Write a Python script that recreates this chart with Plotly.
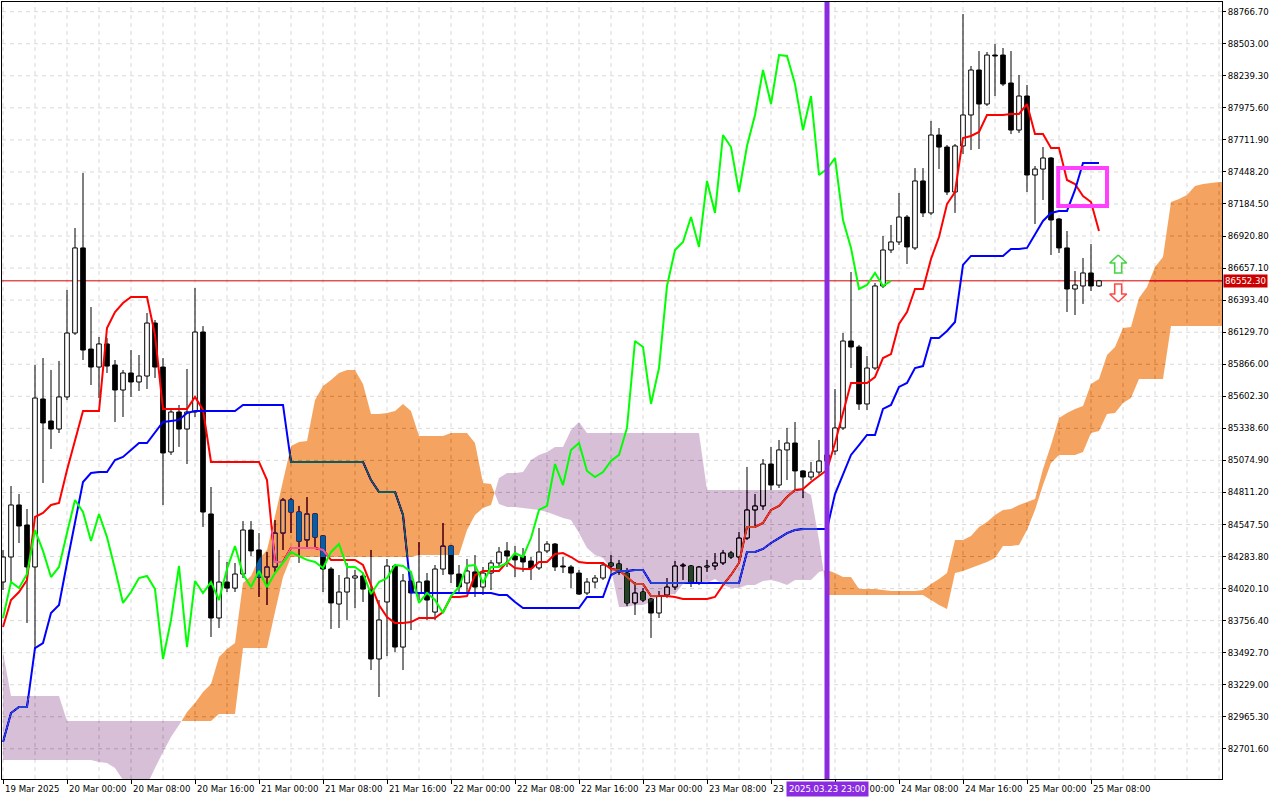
import numpy as np
import pandas as pd
import plotly.graph_objects as go

FONT = "DejaVu Sans"
START = pd.Timestamp("2025-03-19 16:00")   # first hourly bar on the chart
CHIKOU_SHIFT = 26

# ---- hourly BTCUSD candles ----
opens = [84074, 84280, 84708, 84543, 84198, 85580, 85399, 85333, 85597, 86123,
         86823, 85991, 85843, 86033, 85860, 85654, 85794, 85720, 85769, 86205,
         85843, 85144, 85473, 85333, 85473, 86131, 84634, 83778, 84074, 84024,
         84140, 84502, 84338, 84115, 84198, 84477, 84749, 84650, 84420, 84634,
         84453, 84181, 83893, 83992, 84107, 84124, 84008, 83441, 83910, 84206,
         83539, 84083, 83984, 84083, 83827, 84181, 84370, 84140, 84066, 84157,
         84033, 84148, 84231, 84330, 84288, 84288, 84247, 84190, 84330, 84387,
         84206, 84198, 84148, 83984, 84074, 84107, 84231, 84223, 84148, 83902,
         83992, 83934, 83819, 83967, 84033, 84206, 84206, 84066, 84206, 84206,
         84231, 84313, 84280, 84436, 84667, 84700, 85045, 84872, 85161, 85218,
         84988, 84938, 84979, 85070, 85152, 85342, 86057, 86008, 85539, 85835,
         86510, 86806, 86872, 87077, 86823, 87374, 87111, 87752, 87653, 87283,
         87662, 87917, 88287, 88007, 88410, 88410, 88180, 87793, 88073, 87423,
         87472, 87563, 87061, 86823, 86485, 86510, 86617, 86510]
highs = [84338, 84864, 84798, 84675, 85860, 85917, 85819, 85893, 86477, 86987,
         87440, 86337, 86090, 86082, 85901, 85819, 85983, 85942, 86288, 86230,
         85917, 85506, 85531, 85827, 86493, 86180, 84856, 84338, 84239, 84231,
         84576, 84576, 84477, 84321, 84584, 84765, 84765, 84700, 84773, 84642,
         84461, 84198, 84132, 84231, 84173, 84148, 84338, 83926, 84264, 84223,
         84140, 84157, 84403, 84148, 84214, 84560, 84379, 84214, 84264, 84296,
         84198, 84256, 84362, 84403, 84370, 84354, 84280, 84519, 84411, 84395,
         84280, 84214, 84173, 84107, 84132, 84239, 84296, 84256, 84190, 84074,
         84024, 83943, 84000, 84107, 84247, 84231, 84214, 84206, 84256, 84313,
         84338, 84330, 84486, 85021, 84798, 85086, 85186, 85243, 85342, 85391,
         84996, 85062, 85243, 85201, 85662, 86123, 86625, 86025, 85934, 86535,
         86921, 87012, 87275, 87094, 87480, 87480, 87868, 87810, 87670, 87678,
         88748, 88320, 88443, 88435, 88501, 88468, 88443, 88246, 88164, 87497,
         87653, 87571, 87069, 86962, 86633, 86740, 86855, 86560]
lows = [84008, 84066, 84395, 83737, 83531, 84889, 85169, 85300, 85572, 86107,
        85901, 85695, 85588, 85794, 85391, 85432, 85597, 85646, 85662, 85753,
        84708, 85120, 85186, 85045, 85432, 84527, 83622, 83696, 83992, 83992,
        84107, 84288, 83951, 83885, 84157, 84338, 84477, 84231, 84346, 84362,
        83992, 83688, 83696, 83762, 83860, 83910, 83350, 83128, 83465, 83498,
        83350, 83679, 83926, 83762, 83762, 84132, 84066, 83984, 83984, 83951,
        83967, 84008, 84198, 84198, 84115, 84157, 84091, 84173, 84313, 84165,
        84148, 84024, 83967, 83967, 84024, 84091, 84132, 84132, 83877, 83803,
        83910, 83614, 83778, 83943, 84008, 84091, 84033, 84049, 84157, 84173,
        84214, 84264, 84256, 84420, 84527, 84667, 84831, 84848, 84913, 84831,
        84765, 84913, 84955, 85013, 85120, 85325, 85835, 85490, 85490, 85819,
        86493, 86781, 86847, 86691, 86806, 87077, 87094, 87472, 87258, 87111,
        87596, 87629, 87637, 87991, 88073, 88155, 87760, 87769, 87283, 87020,
        87217, 86765, 86781, 86296, 86271, 86362, 86469, 86502]
closes = [84280, 84708, 84535, 84198, 85588, 85383, 85333, 85597, 86123, 86823,
          85983, 85843, 86033, 85851, 85654, 85794, 85720, 85769, 86205, 85843,
          85136, 85473, 85333, 85473, 86131, 84650, 83778, 84074, 84024, 84140,
          84502, 84330, 84115, 84198, 84477, 84749, 84650, 84411, 84634, 84444,
          84181, 83902, 83992, 84107, 84124, 84016, 83441, 83762, 84206, 83539,
          84083, 83984, 84074, 83926, 84181, 84370, 84140, 84033, 84165, 84033,
          84148, 84231, 84321, 84288, 84256, 84239, 84190, 84321, 84387, 84198,
          84198, 84148, 83975, 84074, 84107, 84214, 84206, 84157, 83902, 83984,
          83926, 83819, 83959, 84033, 84206, 84214, 84066, 84198, 84198, 84231,
          84313, 84280, 84436, 84667, 84700, 85045, 84872, 85161, 85218, 84988,
          84938, 84979, 85070, 85120, 85342, 86057, 86008, 85539, 85835, 86510,
          86806, 86872, 87077, 86831, 87374, 87111, 87752, 87653, 87283, 87662,
          87917, 88287, 88007, 88410, 88402, 88172, 87793, 88073, 87423, 87472,
          87563, 87053, 86823, 86485, 86518, 86617, 86510, 86552.30]

# ---- Ichimoku lines (one value per bar) ----
tenkan = [83704, 83926, 83992, 84091, 84609, 84642, 84708, 84724, 84996, 85243,
          85481, 85481, 85481, 86164, 86296, 86370, 86419, 86419, 86419, 86107,
          85498, 85498, 85498, 85498, 85597, 85490, 85062, 85062, 85062, 85062,
          85062, 85062, 85062, 84913, 84239, 84239, 84354, 84354, 84354, 84354,
          84338, 84256, 84256, 84256, 84256, 84214, 84049, 83885, 83786, 83737,
          83737, 83745, 83778, 83778, 83778, 83827, 83951, 83951, 83959, 84132,
          84165, 84165, 84165, 84239, 84190, 84181, 84181, 84239, 84239, 84305,
          84313, 84280, 84239, 84231, 84231, 84231, 84181, 84173, 84115, 84058,
          84058, 83959, 83959, 83959, 83951, 83934, 83934, 83934, 83934, 83951,
          84049, 84132, 84231, 84527, 84527, 84560, 84667, 84700, 84773, 84831,
          84839, 84897, 84946, 84996, 85218, 85457, 85712, 85712, 85712, 85761,
          85917, 85950, 86197, 86296, 86485, 86485, 86732, 86913, 87184, 87283,
          87728, 87744, 87777, 87917, 87917, 87917, 87925, 87925, 88007, 87760,
          87760, 87645, 87645, 87382, 87349, 87250, 87201, 86962]
kijun = [82758, 82996, 83046, 83046, 83531, 83572, 83819, 83885, 84231, 84560,
         84897, 84971, 84979, 84979, 85078, 85103, 85161, 85218, 85218, 85309,
         85391, 85399, 85408, 85465, 85481, 85481, 85481, 85481, 85481, 85481,
         85531, 85531, 85531, 85531, 85531, 85531, 85062, 85062, 85062, 85062,
         85062, 85062, 85062, 85062, 85062, 85062, 84913, 84815, 84815, 84815,
         84626, 83992, 83984, 83984, 83984, 83984, 83984, 83984, 83984, 83984,
         83984, 83984, 83967, 83967, 83910, 83860, 83860, 83860, 83860, 83860,
         83860, 83860, 83860, 83951, 83951, 83951, 84132, 84165, 84165, 84173,
         84173, 84066, 84066, 84066, 84066, 84066, 84066, 84066, 84066, 84066,
         84066, 84066, 84066, 84321, 84321, 84346, 84395, 84436, 84477, 84502,
         84510, 84510, 84510, 84510, 84798, 84963, 85120, 85201, 85284, 85284,
         85498, 85531, 85679, 85712, 85835, 85851, 86082, 86082, 86140, 86214,
         86683, 86757, 86757, 86757, 86757, 86757, 86814, 86814, 86823, 86929,
         87045, 87111, 87127, 87127, 87300, 87522, 87522, 87522]
# cloud edges, bars 0..153 (the cloud runs 26 bars past the last candle)
span_a = [82610, 82610, 82610, 82610, 82610, 82610, 82610, 82610, 82610, 82610,
          82610, 82610, 82593, 82585, 82544, 82445, 82363, 82346, 82404, 82544,
          82675, 82799, 82897, 83004, 83079, 83169, 83235, 83457, 83523, 83572,
          84066, 84124, 84264, 84338, 84617, 84905, 85193, 85226, 85235, 85572,
          85687, 85736, 85794, 85819, 85819, 85703, 85457, 85457, 85465, 85481,
          85539, 85481, 85276, 85276, 85276, 85276, 85300, 85300, 85300, 85218,
          84889, 84880, 84716, 84691, 84691, 84683, 84675, 84667, 84650, 84626,
          84601, 84584, 84477, 84354, 84296, 84272, 84181, 83869, 83869, 83885,
          83885, 83910, 83967, 83967, 83975, 84058, 84074, 84074, 84066, 84099,
          84049, 84025, 84025, 84049, 84049, 84083, 84091, 84074, 84049, 84091,
          84091, 84091, 84157, 84173, 84148, 84115, 84115, 84017, 84017, 84017,
          84008, 84000, 84000, 84000, 84000, 84008, 84058, 84099, 84148, 84420,
          84420, 84453, 84527, 84568, 84626, 84667, 84675, 84708, 84733, 84757,
          85004, 85201, 85424, 85465, 85498, 85522, 85703, 85745, 85942, 86008,
          86164, 86173, 86411, 86502, 86666, 86748, 87201, 87226, 87258, 87333,
          87349, 87357, 87366, 87366]
span_b = [83498, 83136, 83136, 83136, 83136, 83136, 83136, 83136, 82931, 82931,
          82931, 82931, 82931, 82931, 82931, 82931, 82931, 82931, 82931, 82931,
          82931, 82931, 82931, 82931, 82931, 82931, 82931, 82988, 82988, 82988,
          83531, 83531, 83531, 83531, 83827, 84115, 84280, 84280, 84280, 84280,
          84280, 84280, 84280, 84280, 84280, 84280, 84280, 84280, 84280, 84280,
          84280, 84280, 84296, 84296, 84296, 84296, 84296, 84296, 84502, 84626,
          84683, 84708, 84930, 84971, 84971, 84979, 85078, 85120, 85144, 85186,
          85186, 85325, 85391, 85300, 85300, 85300, 85300, 85300, 85300, 85300,
          85300, 85300, 85300, 85300, 85300, 85300, 85300, 85300, 84831, 84831,
          84831, 84831, 84831, 84831, 84831, 84831, 84831, 84831, 84831, 84831,
          84831, 84790, 84420, 83967, 83967, 83967, 83967, 83967, 83967, 83967,
          83967, 83967, 83967, 83967, 83967, 83967, 83926, 83885, 83852, 84148,
          84165, 84190, 84214, 84239, 84272, 84370, 84370, 84379, 84502, 84667,
          84873, 85053, 85120, 85120, 85120, 85144, 85300, 85317, 85457, 85465,
          85547, 85588, 85745, 85745, 85745, 85745, 86181, 86181, 86181, 86181,
          86181, 86181, 86181, 86181]

x_tick_labels = ["19 Mar 2025", "20 Mar 00:00", "20 Mar 08:00", "20 Mar 16:00",
                 "21 Mar 00:00", "21 Mar 08:00", "21 Mar 16:00", "22 Mar 00:00",
                 "22 Mar 08:00", "22 Mar 16:00", "23 Mar 00:00", "23 Mar 08:00",
                 "23 Mar 16:00", "24 Mar 00:00", "24 Mar 08:00", "24 Mar 16:00",
                 "25 Mar 00:00", "25 Mar 08:00"]
y_ticks = [88766.70, 88503.00, 88239.30, 87975.60, 87711.90, 87448.20, 87184.50,
           86920.80, 86657.10, 86393.40, 86129.70, 85866.00, 85602.30, 85338.60,
           85074.90, 84811.20, 84547.50, 84283.80, 84020.10, 83756.40, 83492.70,
           83229.00, 82965.30, 82701.60]

last_price = 86552.30
signal_bar = 103
signal_label = "2025.03.23 23:00"
box_bars = (131.9, 138.0)
box_prices = (87168, 87481)
arrow_bar = 139.4
arrow_up_price = 86691
arrow_down_price = 86452

x_view = (-0.125, 152.375)
y_view = (82453.4, 88846.5)
PLOT_W, PLOT_H = 1220, 777

SANDY = (244, 164, 96)
THISTLE = (216, 191, 216)
GRID = "#D9D9D9"


def bar_time(k):
    return START + pd.to_timedelta(np.asarray(k, dtype=float), unit="h")


def inverted(rgb):
    # the cloud is blended with "difference", like the XOR drawing of the terminal
    return "rgb({}, {}, {})".format(*(255 - c for c in rgb))


def cloud_runs(a, b):
    runs = []
    cur = None
    for k in range(len(a)):
        up = a[k] >= b[k]
        if cur is None:
            cur = {"up": up, "x": [k], "a": [a[k]], "b": [b[k]]}
        elif up != cur["up"]:
            d0, d1 = a[k - 1] - b[k - 1], a[k] - b[k]
            t = d0 / (d0 - d1)
            xc = k - 1 + t
            yc = a[k - 1] + t * (a[k] - a[k - 1])
            cur["x"].append(xc)
            cur["a"].append(yc)
            cur["b"].append(yc)
            runs.append(cur)
            cur = {"up": up, "x": [xc, k], "a": [yc, a[k]], "b": [yc, b[k]]}
        else:
            cur["x"].append(k)
            cur["a"].append(a[k])
            cur["b"].append(b[k])
    runs.append(cur)
    return runs


def segments(pairs):
    xs, ys = [], []
    for (x0, y0), (x1, y1) in pairs:
        xs += [x0, x1, None]
        ys += [y0, y1, None]
    return xs, ys


n = len(closes)
times = bar_time(np.arange(n))
px_hours = (x_view[1] - x_view[0]) / PLOT_W
px_price = (y_view[1] - y_view[0]) / PLOT_H
body_half = 2.3 * px_hours

fig = go.Figure()

# white backdrop inside the plot group, so the cloud blend has something to act on
bx = bar_time([-10, 170, 170, -10, -10])
by = [y_view[0] - 2000, y_view[0] - 2000, y_view[1] + 2000, y_view[1] + 2000, y_view[0] - 2000]
fig.add_trace(go.Scatter(x=bx, y=by, mode="lines", fill="toself", fillcolor="white",
                         line=dict(width=0), hoverinfo="skip"))

# dashed grid: every 4 hours and at each price label
gx, gy = segments([((bar_time(k), y_view[0]), (bar_time(k), y_view[1])) for k in range(0, 156, 4)]
                  + [((bar_time(x_view[0]), v), (bar_time(x_view[1]), v)) for v in y_ticks])
fig.add_trace(go.Scatter(x=gx, y=gy, mode="lines", hoverinfo="skip",
                         line=dict(color=GRID, width=1, dash="4px,4px")))

fig.add_trace(go.Scatter(x=bar_time([x_view[0], x_view[1]]), y=[last_price, last_price],
                         mode="lines", line=dict(color="#D40000", width=1), hoverinfo="skip"))

# candles: wicks, then bodies
wx, wy = segments([((t, lo), (t, hi)) for t, lo, hi in zip(times, lows, highs)])
fig.add_trace(go.Scatter(x=wx, y=wy, mode="lines", line=dict(color="black", width=1),
                         hoverinfo="skip"))
for bullish, fill in [(True, "white"), (False, "black")]:
    xs, ys = [], []
    for k in range(n):
        if (closes[k] >= opens[k]) != bullish:
            continue
        lo, hi = sorted((opens[k], closes[k]))
        if hi - lo < px_price:
            hi = lo + px_price
        xs += list(bar_time([k - body_half, k + body_half, k + body_half, k - body_half, k - body_half])) + [None]
        ys += [lo, lo, hi, hi, lo, None]
    fig.add_trace(go.Scatter(x=xs, y=ys, mode="lines", fill="toself", fillcolor=fill,
                             line=dict(color="black", width=1), hoverinfo="skip"))

fig.add_trace(go.Scatter(x=times, y=tenkan, mode="lines",
                         line=dict(color="#FF0000", width=2), hoverinfo="skip"))
fig.add_trace(go.Scatter(x=times, y=kijun, mode="lines",
                         line=dict(color="#0000FF", width=2), hoverinfo="skip"))

for run in cloud_runs(span_a, span_b):
    xs = list(run["x"]) + list(run["x"])[::-1]
    ys = list(run["a"]) + list(run["b"])[::-1]
    fig.add_trace(go.Scatter(
        x=bar_time(xs), y=ys, mode="lines", fill="toself",
        fillcolor=inverted(SANDY if run["up"] else THISTLE),
        line=dict(width=0, simplify=False), hoverinfo="skip",
    ))

# chikou span: closes drawn 26 bars back
fig.add_trace(go.Scatter(x=times[:n - CHIKOU_SHIFT], y=closes[CHIKOU_SHIFT:], mode="lines",
                         line=dict(color="#00FF00", width=2), hoverinfo="skip"))

# hollow signal arrows
arrow_px = [(0, -9), (8.5, -1), (3.5, -1), (3.5, 9), (-3.5, 9), (-3.5, -1), (-8.5, -1), (0, -9)]
for price, flip, colour in [(arrow_up_price, 1, "#44D444"), (arrow_down_price, -1, "#FF4A4A")]:
    fig.add_trace(go.Scatter(
        x=bar_time([arrow_bar + dx * px_hours for dx, dy in arrow_px]),
        y=[price - flip * dy * px_price for dx, dy in arrow_px],
        mode="lines", line=dict(color=colour, width=1.6), hoverinfo="skip",
    ))

fig.add_shape(type="line", x0=bar_time(signal_bar), x1=bar_time(signal_bar), y0=0, y1=1,
              yref="paper", line=dict(color="#8A2BE2", width=5), layer="above")
fig.add_shape(type="rect", x0=bar_time(box_bars[0]), x1=bar_time(box_bars[1]),
              y0=box_prices[0], y1=box_prices[1], line=dict(color="#FF40FF", width=4),
              layer="above")

tick_bars = list(range(0, 8 * len(x_tick_labels), 8))
for k, label in zip(tick_bars, x_tick_labels):
    fig.add_annotation(x=bar_time(k), y=0, xref="x", yref="paper", text=label,
                       showarrow=False, xanchor="left", yanchor="middle", yshift=-10,
                       font=dict(family=FONT, size=8.6, color="black"))
fig.add_annotation(x=1, y=last_price, xref="paper", yref="y", text=f"{last_price:.2f}",
                   showarrow=False, xanchor="left", xshift=1, bgcolor="#CC0000",
                   borderpad=1, font=dict(family=FONT, size=8.6, color="white"))
fig.add_annotation(x=bar_time(signal_bar), y=0, xref="x", yref="paper", text=signal_label,
                   showarrow=False, xanchor="center", yanchor="middle", yshift=-10,
                   bgcolor="#8A2BE2", borderpad=2, font=dict(family=FONT, size=8.6, color="white"))

fig.update_layout(
    width=1280, height=800,
    margin=dict(l=2, r=58, t=2, b=21),
    paper_bgcolor="white", plot_bgcolor="white",
    showlegend=False,
    font=dict(family=FONT, size=9, color="black"),
    xaxis=dict(type="date", range=list(bar_time(x_view)), tickvals=bar_time(tick_bars),
               showticklabels=False, ticks="outside", ticklen=4, tickcolor="black",
               showgrid=False, showline=True, mirror=True, linecolor="black", linewidth=1,
               zeroline=False, fixedrange=True),
    yaxis=dict(side="right", range=list(y_view), tickvals=y_ticks,
               ticktext=[f"{v:.2f}" for v in y_ticks], ticks="outside", ticklen=3,
               tickcolor="black", tickfont=dict(family=FONT, size=8.6, color="black"),
               showgrid=False, showline=True, mirror=True, linecolor="black", linewidth=1,
               zeroline=False, fixedrange=True),
)

cloud_fills = ", ".join('path.js-fill[style*="{}"]'.format(inverted(c)) for c in (SANDY, THISTLE))
page_js = (
    "document.body.style.margin='0';"
    "var s=document.createElement('style');"
    "s.innerHTML='" + cloud_fills.replace("'", "\\'") + "{mix-blend-mode:difference;}';"
    "document.head.appendChild(s);"
)
fig.write_html("out.html", config={"displayModeBar": False}, post_script=page_js)
